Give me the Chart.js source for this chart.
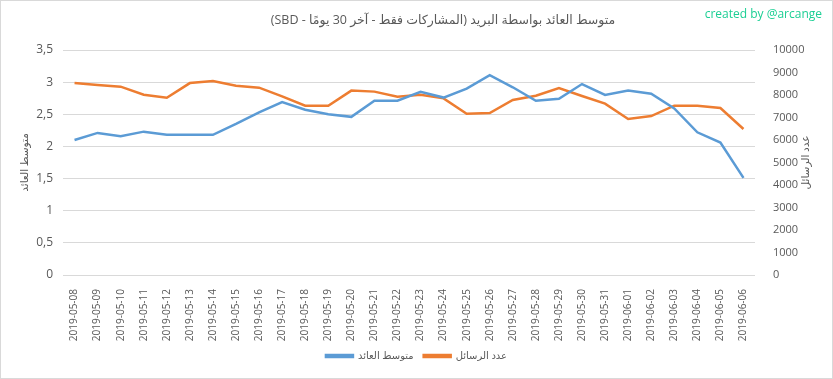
<!DOCTYPE html>
<html>
<head>
<meta charset="utf-8">
<script src="https://cdn.jsdelivr.net/npm/chart.js@4"></script>
<style>
    body { margin: 0; background: #fff; }
    #wrap { width: 833px; height: 379px; position: relative; }
</style>
</head>
<body>
<div id="wrap"><canvas id="chart"></canvas></div>
<script>
const dates = [
    '2019-05-08', '2019-05-09', '2019-05-10', '2019-05-11', '2019-05-12', '2019-05-13',
    '2019-05-14', '2019-05-15', '2019-05-16', '2019-05-17', '2019-05-18', '2019-05-19',
    '2019-05-20', '2019-05-21', '2019-05-22', '2019-05-23', '2019-05-24', '2019-05-25',
    '2019-05-26', '2019-05-27', '2019-05-28', '2019-05-29', '2019-05-30', '2019-05-31',
    '2019-06-01', '2019-06-02', '2019-06-03', '2019-06-04', '2019-06-05', '2019-06-06'
];
const avgPayout = [
    2.10, 2.21, 2.16, 2.23, 2.18, 2.18, 2.18, 2.35, 2.53, 2.69,
    2.57, 2.50, 2.46, 2.71, 2.71, 2.85, 2.76, 2.90, 3.11, 2.92,
    2.71, 2.74, 2.97, 2.80, 2.87, 2.82, 2.59, 2.22, 2.06, 1.51
];
const postCount = [
    8530, 8440, 8370, 8015, 7880, 8530, 8620, 8415, 8325, 7940,
    7525, 7525, 8195, 8150, 7925, 8015, 7850, 7170, 7200, 7780,
    7970, 8310, 7955, 7615, 6935, 7065, 7525, 7525, 7420, 6490
];
const avgTicks = { min: 0, max: 3.5, step: 0.5 };
const countTicks = { min: 0, max: 10000, step: 1000 };

const titleText = 'متوسط العائد بواسطة البريد (المشاركات فقط - آخر 30 يومًا - SBD)';
const creditText = 'created by @arcange';
const leftTitle = 'متوسط العائد';
const rightTitle = 'عدد الرسائل';

const txtColor = '#595959';
const gridColor = '#d9d9d9';
const fontFam = "'Open Sans', 'DejaVu Sans', sans-serif";

// title, credit, axis titles and frame drawn by hand
const decor = {
    id: 'decor',
    afterDraw(chart) {
        const c = chart.ctx;
        const area = chart.chartArea;
        c.save();
        c.strokeStyle = gridColor;
        c.lineWidth = 1;
        c.strokeRect(0.5, 0.5, chart.width - 1, chart.height - 1);

        c.fillStyle = txtColor;
        c.font = '12.5px ' + fontFam;
        c.textBaseline = 'middle';
        c.textAlign = 'center';
        c.direction = 'rtl';
        c.fillText(titleText, 443, 20);

        c.direction = 'ltr';
        c.fillStyle = '#1ccf94';
        c.font = '12px ' + fontFam;
        c.textAlign = 'right';
        c.fillText(creditText, 822, 15);

        c.fillStyle = txtColor;
        c.font = '10.5px ' + fontFam;
        c.textAlign = 'center';
        c.direction = 'rtl';
        const midY = (area.top + area.bottom) / 2;
        [[25, leftTitle], [806, rightTitle]].forEach(([x, t]) => {
            c.save();
            c.translate(x, midY);
            c.rotate(-Math.PI / 2);
            c.fillText(t, 0, 0);
            c.restore();
        });
        c.restore();
    }
};

new Chart(document.getElementById('chart'), {
    type: 'line',
    data: {
        labels: dates,
        datasets: [
            {
                label: leftTitle,
                data: avgPayout,
                yAxisID: 'y',
                borderColor: '#5b9bd5',
                backgroundColor: '#5b9bd5',
                borderWidth: 2.5,
                pointRadius: 0,
                tension: 0
            },
            {
                label: rightTitle,
                data: postCount,
                yAxisID: 'y1',
                borderColor: '#ed7d31',
                backgroundColor: '#ed7d31',
                borderWidth: 2.5,
                pointRadius: 0,
                tension: 0
            }
        ]
    },
    options: {
        responsive: true,
        maintainAspectRatio: false,
        animation: false,
        layout: { padding: { top: 50, bottom: 8, left: 0, right: 0 } },
        plugins: {
            legend: {
                position: 'bottom',
                labels: {
                    boxWidth: 27,
                    boxHeight: 2,
                    padding: 10,
                    color: txtColor,
                    font: { size: 10, family: fontFam }
                }
            },
            tooltip: { enabled: false }
        },
        scales: {
            x: {
                offset: true,
                grid: { display: false },
                border: { display: false },
                ticks: {
                    color: txtColor,
                    font: { size: 10, family: fontFam },
                    minRotation: 90,
                    maxRotation: 90,
                    autoSkip: false,
                    padding: 6
                },
                afterFit: (s) => { s.height = 66; }
            },
            y: {
                position: 'left',
                min: avgTicks.min,
                max: avgTicks.max,
                grid: { color: gridColor, drawTicks: false },
                border: { display: false },
                ticks: {
                    stepSize: avgTicks.step,
                    padding: 10,
                    color: txtColor,
                    font: { size: 12, family: fontFam },
                    callback: (v) => String(v).replace('.', ',')
                },
                afterFit: (s) => { s.width = 63; }
            },
            y1: {
                position: 'right',
                min: countTicks.min,
                max: countTicks.max,
                grid: { display: false },
                border: { display: false },
                ticks: {
                    stepSize: countTicks.step,
                    padding: 10,
                    color: txtColor,
                    font: { size: 11, family: fontFam },
                    callback: (v) => String(v)
                },
                afterFit: (s) => { s.width = 78; }
            }
        }
    },
    plugins: [decor]
});
</script>
</body>
</html>
